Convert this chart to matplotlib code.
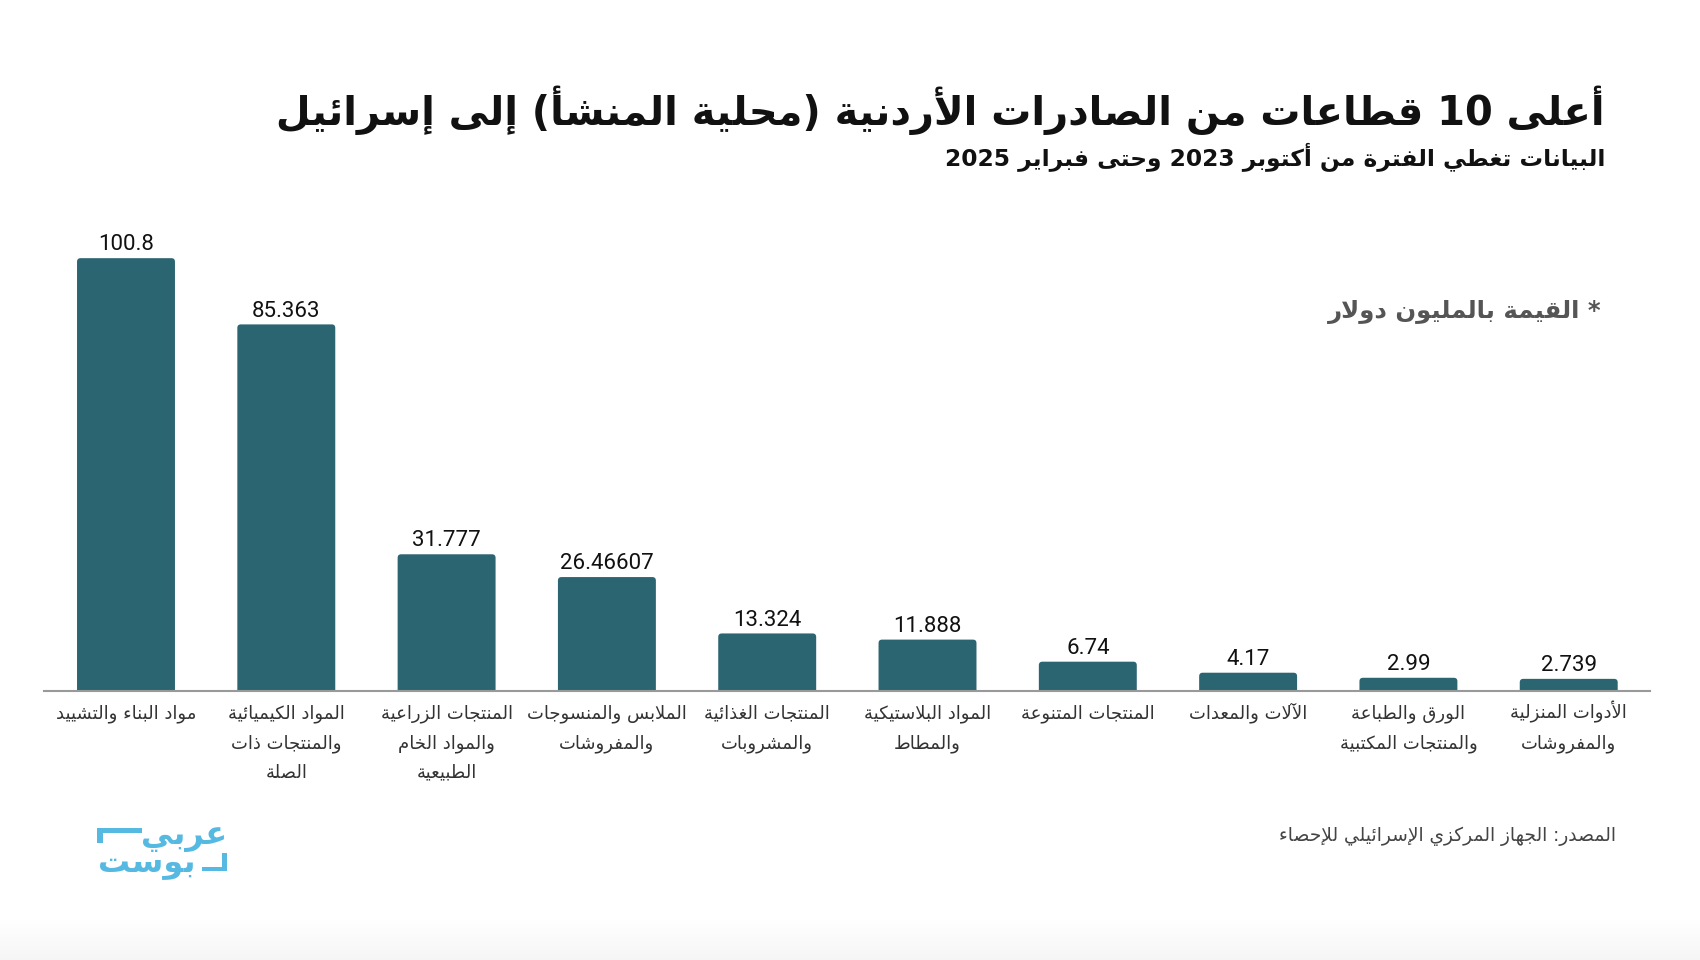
import re
import matplotlib
matplotlib.use('Agg')
import matplotlib.pyplot as plt
import numpy as np
from matplotlib.patches import FancyBboxPatch, Rectangle

title = 'أعلى 10 قطاعات من الصادرات الأردنية (محلية المنشأ) إلى إسرائيل'
subtitle = 'البيانات تغطي الفترة من أكتوبر 2023 وحتى فبراير 2025'
note = '* القيمة بالمليون دولار'
source = 'المصدر: الجهاز المركزي الإسرائيلي للإحصاء'
logo_top = 'عربي'
logo_bottom = 'بوست'

categories = [
    ['مواد البناء والتشييد'],
    ['المواد الكيميائية', 'والمنتجات ذات', 'الصلة'],
    ['المنتجات الزراعية', 'والمواد الخام', 'الطبيعية'],
    ['الملابس والمنسوجات', 'والمفروشات'],
    ['المنتجات الغذائية', 'والمشروبات'],
    ['المواد البلاستيكية', 'والمطاط'],
    ['المنتجات المتنوعة'],
    ['الآلات والمعدات'],
    ['الورق والطباعة', 'والمنتجات المكتبية'],
    ['الأدوات المنزلية', 'والمفروشات'],
]
values = [100.8, 85.363, 31.777, 26.46607, 13.324, 11.888, 6.74, 4.17, 2.99, 2.739]

BAR_COLOR = '#2C6572'
LOGO_COLOR = '#56B9E2'
W, H = 1700, 960

# matplotlib does no Arabic shaping or bidi, so map letters to presentation forms
# and put the string in visual order
LETTERS = 'ءآأؤإئابةتثجحخدذرزسشصضطظعغفقكلمنهوىي'
RIGHT_JOIN = set('آأؤإادذرزوىة')
forms = {}
code = 0xFE80
for ch in LETTERS:
    n = 1 if ch == 'ء' else 2 if ch in RIGHT_JOIN else 4
    forms[ch] = [chr(code + k) for k in range(n)]
    code += n
LAM_ALEF = {'آ': 0xFEF5, 'أ': 0xFEF7, 'إ': 0xFEF9, 'ا': 0xFEFB}


def shape(text):
    out = []
    i = 0
    prev_joins = False
    while i < len(text):
        ch = text[i]
        nxt = text[i + 1] if i + 1 < len(text) else ''
        if ch not in forms:
            out.append(ch)
            prev_joins = False
            i += 1
            continue
        if ch == 'ل' and nxt in LAM_ALEF:
            out.append(chr(LAM_ALEF[nxt] + (1 if prev_joins else 0)))
            prev_joins = False
            i += 2
            continue
        f = forms[ch]
        if len(f) == 1:
            out.append(f[0])
            prev_joins = False
        elif len(f) == 2:
            out.append(f[1 if prev_joins else 0])
            prev_joins = False
        else:
            next_joins = nxt in forms
            if prev_joins and next_joins:
                out.append(f[3])
            elif prev_joins:
                out.append(f[1])
            elif next_joins:
                out.append(f[2])
            else:
                out.append(f[0])
            prev_joins = True
        i += 1
    vis = ''.join(out)[::-1].translate(str.maketrans('()', ')('))
    return re.sub(r'[0-9.]+', lambda m: m.group(0)[::-1], vis)


def fx(px):
    return px / W


def fy(py):
    return 1 - py / H


plt.rcParams['font.family'] = 'DejaVu Sans'
fig = plt.figure(figsize=(17, 9.6), dpi=100, facecolor='white')

# faint grey fade along the bottom edge
bg = fig.add_axes([0, 0, 1, 45 / H])
bg.imshow(np.linspace(1, 0.96, 45).reshape(-1, 1), cmap='gray', vmin=0, vmax=1, aspect='auto')
bg.axis('off')

# axes placed so that 4.29 px = 1 unit, bars 160.3 px apart
ax = fig.add_axes([fx(44), fy(690.6), fx(1650 - 44), (690.6 - 230) / H])
ax.set_xlim(-0.5115, 9.507)
ax.set_ylim(0, 460.6 / 4.29)

bar_w = 0.611
aspect = 160.3 / 4.29
for i, v in enumerate(values):
    ax.add_patch(FancyBboxPatch((i - bar_w / 2, -1), bar_w, v + 1,
                                boxstyle='round,pad=0,rounding_size=0.022',
                                mutation_aspect=aspect, fc=BAR_COLOR, ec='none'))
    ax.annotate(str(v), (i, v), xytext=(0, 2), textcoords='offset points',
                ha='center', va='bottom', fontsize=16, family='Roboto', color='#111111')
    # category lines sit on fixed baselines under the axis
    for k, line in enumerate(categories[i]):
        ax.annotate(shape(line), (i, 0), xycoords=ax.get_xaxis_transform(),
                    xytext=(0, -20 - 21.4 * k), textcoords='offset points',
                    ha='center', va='baseline', fontsize=13, color='#333333',
                    annotation_clip=False)

for s in ['top', 'left', 'right']:
    ax.spines[s].set_visible(False)
ax.spines['bottom'].set_color('#999999')
ax.spines['bottom'].set_linewidth(1.5)
ax.set_yticks([])
ax.set_xticks([])

fig.text(fx(1605), fy(110), shape(title), ha='right', va='center', fontsize=28.8,
         fontweight='bold', color='#111111')
fig.text(fx(1605), fy(157), shape(subtitle), ha='right', va='center', fontsize=16.8,
         fontweight='bold', color='#111111')
fig.text(fx(1602), fy(312), shape(note), ha='right', va='center', fontsize=17.6,
         fontweight='bold', color='#555555')
fig.text(fx(1616), fy(836), shape(source), ha='right', va='center', fontsize=13.4,
         color='#444444')

# logo
for x0, y0, x1, y1 in [(97, 828, 142, 833), (97, 828, 103, 843),
                       (222, 853, 227, 871), (202, 867, 227, 871)]:
    fig.add_artist(Rectangle((fx(x0), fy(y1)), (x1 - x0) / W, (y1 - y0) / H,
                             transform=fig.transFigure, fc=LOGO_COLOR, ec='none'))
fig.text(fx(227), fy(837), shape(logo_top), ha='right', va='center', fontsize=23,
         fontweight='bold', color=LOGO_COLOR)
fig.text(fx(195), fy(864), shape(logo_bottom), ha='right', va='center', fontsize=23,
         fontweight='bold', color=LOGO_COLOR)

fig.savefig('out.png', dpi=100)
